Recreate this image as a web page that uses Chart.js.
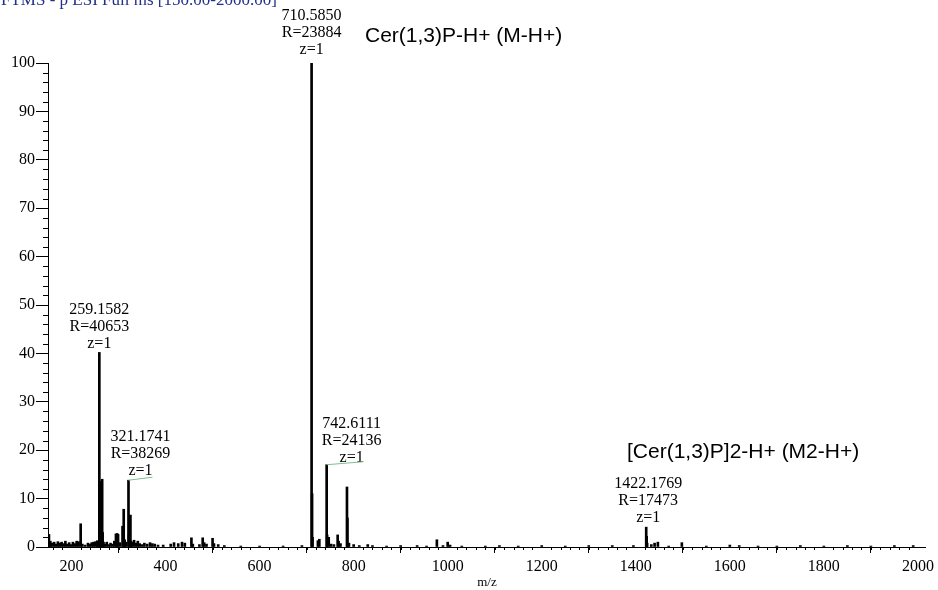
<!DOCTYPE html>
<html><head><meta charset="utf-8">
<script src="https://cdn.jsdelivr.net/npm/chart.js@4.4.0/dist/chart.umd.min.js"></script>
<style>html,body{margin:0;padding:0;background:#fff;}#wrap{position:relative;width:938px;height:590px;}</style>
</head><body><div id="wrap"><canvas id="c" width="938" height="590"></canvas></div>
<script>
// m/z of each stick in the spectrum
const mzValues = [
  152.0,155,158,163,167,171,175,179,183,187,191,195,199,203,207,211,215,219.5,223,229,235,239,243,247,251,255,257,
  259.158,260.16,261.2,263,265.2,266.2,268,271,275,279,283,287,291,294.5,297,299,303,308.5,311,313,316,
  321.174,322.2,325.3,326.3,329,333,337,341,345,350,355,361,367,372,377,384,395,411,418,427,435,441,455,458,
  472,479,482,487,500,503,512,525,560,600,650,690,
  710.585,711.59,712.6,724,727,742.611,743.6,747,752,758,766,768,772,785.8,786.8,790,800,812,830,840,870,900,935,955,
  977,990,1000,1005,1030,1080,1110,1150,1200,1250,1300,1350,1395,
  1422.177,1423.18,1424.2,1433,1440,1447,1470,1498,1550,1600,1620,1660,1700,1750,1800,1850,1900,1950,1990
];
// relative abundance (%) of each stick
const intensities = [
  2.6,1.2,0.8,1.0,0.6,1.1,0.8,1.0,0.7,1.2,0.6,0.9,0.5,1.0,0.7,1.2,1.1,4.8,0.6,0.4,0.8,0.6,0.9,1.0,1.1,1.3,0.8,
  40.2,13.6,2.0,1.5,14.0,3.0,1.0,0.6,1.0,0.5,0.8,0.6,1.2,2.7,2.8,2.6,0.9,4.3,7.8,1.5,1.0,
  13.8,2.5,6.6,1.2,1.0,1.4,0.8,1.2,0.7,0.5,0.8,0.6,0.9,0.7,0.6,0.4,0.4,0.6,0.9,0.7,1.0,0.8,1.9,0.6,
  0.5,1.9,0.9,0.6,1.8,0.7,0.5,0.3,0.2,0.2,0.2,0.3,
  100,11.0,2.0,1.3,1.6,17.0,2.5,2.0,0.6,0.5,2.5,1.2,0.7,12.4,6.0,0.8,0.5,0.3,0.5,0.3,0.2,0.3,0.3,0.2,
  1.5,0.3,1.0,0.4,0.2,0.2,0.3,0.2,0.3,0.2,0.3,0.3,0.3,
  4.1,2.2,0.8,0.5,0.8,1.0,0.2,0.9,0.2,0.4,0.3,0.2,0.2,0.3,0.2,0.3,0.2,0.3,0.3
];
const xTickLabels = [200,400,600,800,1000,1200,1400,1600,1800,2000];
const yTickLabels = [0,10,20,30,40,50,60,70,80,90,100];
const annotatedMz = [259.158, 321.174, 710.585, 742.611, 1422.177];
const annotatedIntensity = [40.2, 13.8, 100, 17.0, 4.1];
const annotationText = [
  ['259.1582','R=40653','z=1'],
  ['321.1741','R=38269','z=1'],
  ['710.5850','R=23884','z=1'],
  ['742.6111','R=24136','z=1'],
  ['1422.1769','R=17473','z=1']
];
const ionLabels = ['Cer(1,3)P-H+ (M-H+)', '[Cer(1,3)P]2-H+ (M2-H+)'];
const titleText = 'FTMS - p ESI Full ms [150.00-2000.00]';

const SERIF = '"Liberation Serif", "Times New Roman", serif';
const SANS = '"Liberation Sans", Arial, sans-serif';

const annDx = [0, 12, 0, 25, 2];
const annGap = [9, 9, 13, 7, 9];
const connector = [false, true, false, true, false];

const minorTicks = {
  id: 'minorTicks',
  afterDraw(chart) {
    const c = chart.ctx, xs = chart.scales.x, ys = chart.scales.y, a = chart.chartArea;
    c.save();
    c.strokeStyle = '#000'; c.lineWidth = 1;
    c.beginPath();
    for (let v = 160; v <= 2017; v += 20) {
      if (v % 200 === 0) continue;
      const px = Math.round(xs.getPixelForValue(v)) + 0.5;
      c.moveTo(px, a.bottom); c.lineTo(px, a.bottom + 3);
    }
    for (let v = 2; v < 100; v += 2) {
      if (v % 10 === 0) continue;
      const py = Math.round(ys.getPixelForValue(v)) + 0.5;
      c.moveTo(a.left - 5, py); c.lineTo(a.left, py);
    }
    c.stroke();
    c.restore();
  }
};

const annotations = {
  id: 'annotations',
  afterDraw(chart) {
    const c = chart.ctx, xs = chart.scales.x, ys = chart.scales.y;
    c.save();
    c.fillStyle = '#000';
    c.font = '16px ' + SERIF;
    c.textAlign = 'center'; c.textBaseline = 'middle';
    annotatedMz.forEach((m, i) => {
      const px = xs.getPixelForValue(m), py = ys.getPixelForValue(annotatedIntensity[i]);
      const lines = annotationText[i];
      const cx = px + annDx[i];
      lines.forEach((t, j) => {
        const ly = py - annGap[i] - (lines.length - 1 - j) * 17;
        c.fillText(t, cx, ly);
      });
      if (connector[i]) {
        c.strokeStyle = '#7fbf8f'; c.lineWidth = 1;
        c.beginPath(); c.moveTo(px, py); c.lineTo(cx + 12, py - 3); c.stroke();
      }
    });
    c.font = '21px ' + SANS;
    c.textAlign = 'left';
    c.fillText(ionLabels[0], 365, 36);
    c.fillText(ionLabels[1], 627, 452);
    c.fillStyle = '#22308a';
    c.font = '17px ' + SERIF;
    c.textBaseline = 'alphabetic';
    c.fillText(titleText, 1, 5);
    c.restore();
  }
};

new Chart(document.getElementById('c'), {
  type: 'bar',
  data: {
    datasets: [{
      data: mzValues.map((m, i) => ({ x: m, y: intensities[i] })),
      backgroundColor: '#000',
      borderWidth: 0,
      barThickness: 2
    }]
  },
  options: {
    responsive: false,
    animation: false,
    layout: { padding: { left: 0, right: 10, top: 63, bottom: 0 } },
    plugins: { legend: { display: false }, tooltip: { enabled: false } },
    scales: {
      x: {
        type: 'linear', min: 150, max: 2017, offset: false,
        afterBuildTicks: s => { s.ticks = xTickLabels.map(v => ({ value: v })); },
        ticks: { font: { family: SERIF, size: 16 }, color: '#000', padding: 4, maxRotation: 0, autoSkip: false,
                 callback: v => String(v) },
        grid: { display: true, drawOnChartArea: false, drawTicks: true, tickLength: 6, color: '#000', tickColor: '#000' },
        border: { display: true, color: '#000', width: 1 },
        title: { display: true, text: 'm/z', font: { family: SERIF, size: 13 }, color: '#000', padding: { top: 0, bottom: 0 } },
        afterFit: s => { s.height = 43; }
      },
      y: {
        min: 0, max: 100,
        afterBuildTicks: s => { s.ticks = yTickLabels.map(v => ({ value: v })); },
        ticks: { font: { family: SERIF, size: 16 }, color: '#000', padding: 1, callback: v => String(v) },
        grid: { display: true, drawOnChartArea: false, drawTicks: true, tickLength: 12, color: '#000', tickColor: '#000' },
        border: { display: true, color: '#000', width: 1 },
        afterFit: s => { s.width = 48; }
      }
    }
  },
  plugins: [minorTicks, annotations]
});
</script></body></html>
